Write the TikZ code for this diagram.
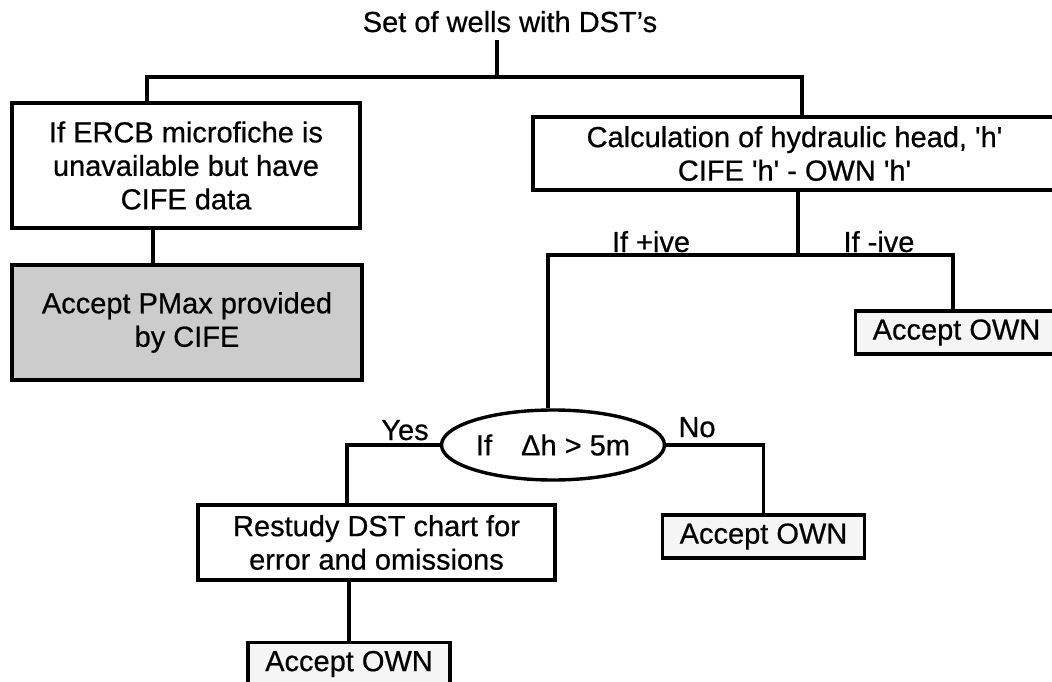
\documentclass[tikz,border=0pt]{standalone}
\usepackage{fontspec}
\setmainfont{Liberation Sans}[FakeBold=0.6]
\usepackage{tikz}
\usetikzlibrary{shapes.geometric}
\newcommand{\chartfont}{\fontsize{29}{33.5}\selectfont}
\tikzset{
	box/.style={draw, line width=3.4pt, align=center, inner sep=0pt, font=\chartfont},
	ownbox/.style={box, fill=black!4, minimum width=202pt, minimum height=43pt},
	shadebox/.style={box, fill=black!20},
	decision/.style={ellipse, draw, line width=3.4pt, inner sep=0pt, font=\chartfont, minimum width=223pt, minimum height=70pt},
	lbl/.style={inner sep=0pt, font=\chartfont},
	link/.style={line width=3.4pt}
}

\begin{document}
\begin{tikzpicture}[x=1pt, y=-1pt]
	\useasboundingbox (0,0) rectangle (1052,682);
	\clip (0,0) rectangle (1052,682);
	
	\node[lbl, inner sep=8pt, anchor=base] (title) at (510,32) {Set of wells with DST's};
	\node[box, minimum width=348pt, minimum height=125pt] (ercb) at (186,165.5) {If ERCB microfiche is\\unavailable but have\\CIFE data};
	\node[shadebox, minimum width=350pt, minimum height=115pt] (pmax) at (187,322.5) {Accept PMax provided\\by CIFE};
	\node[box, minimum width=523pt, minimum height=73pt] (calc) at (794.5,153.5) {Calculation of hydraulic head, \textquotesingle h\textquotesingle\\CIFE \textquotesingle h\textquotesingle{} - OWN \textquotesingle h\textquotesingle};
	\node[ownbox] (ownR) at (956.5,332.5) {Accept OWN};
	\node[decision] (delta) at (553,445) {If\hspace{1em}Δh > 5m};
	\node[box, minimum width=357pt, minimum height=75pt] (restudy) at (376.5,542.5) {Restudy DST chart for\\error and omissions};
	\node[ownbox] (ownM) at (763.5,536.5) {Accept OWN};
	\node[ownbox] (ownB) at (349,664) {Accept OWN};
	
	% top split
	\coordinate (top) at (497,77);
	\coordinate (lft) at (147,77);
	\coordinate (rgt) at (802,77);
	\draw[link] (title.south -| top) -- (top);
	\draw[link] (ercb.north -| lft) -- (lft) -- (rgt) -- (calc.north -| rgt);
	% left branch
	\coordinate (s1) at (153,0);
	\draw[link] (ercb.south -| s1) -- (pmax.north -| s1);
	% right branch
	\coordinate (mid) at (798,255);
	\coordinate (pos) at (548,255);
	\coordinate (neg) at (953,255);
	\draw[link] (calc.south -| mid) -- (mid);
	\draw[link] (delta.north -| pos) -- (pos) -- (neg) -- (ownR.north -| neg);
	\node[lbl, anchor=base] (plus) at (651,252) {If +ive};
	\node[lbl, anchor=base] (minus) at (879,252) {If -ive};
	% decision
	\coordinate (yes) at (347,445);
	\draw[link] (delta.west) -- (yes) -- (restudy.north -| yes);
	\draw[link] (delta.east) -| (ownM.north);
	\node[lbl, anchor=base] (yeslbl) at (405,440) {Yes};
	\node[lbl, anchor=base] (nolbl) at (697,437) {No};
	\draw[link] (restudy.south -| ownB.north) -- (ownB.north);
\end{tikzpicture}
\end{document}
